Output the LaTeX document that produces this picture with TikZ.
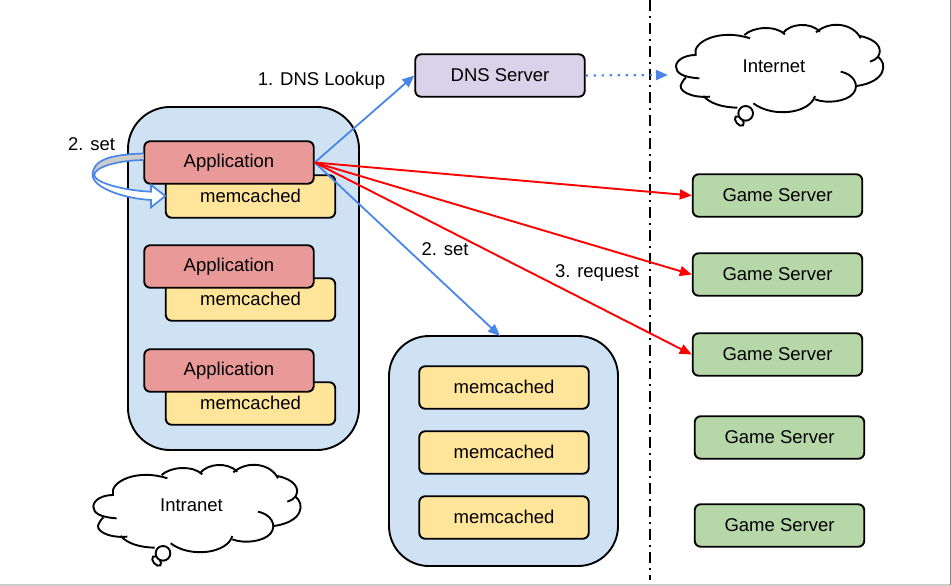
\documentclass[tikz,border=0pt]{standalone}
\usepackage{fontspec}
\setmainfont{Liberation Sans}
\usetikzlibrary{arrows.meta}

\definecolor{panelblue}{HTML}{CFE2F3}
\definecolor{appred}{HTML}{EA9999}
\definecolor{memyellow}{HTML}{FFE599}
\definecolor{dnspurple}{HTML}{D9D2E9}
\definecolor{gamegreen}{HTML}{B6D7A8}
\definecolor{linkblue}{HTML}{4A86E8}

\tikzset{
	box/.style={draw=black, line width=1.9pt, rounded corners=6pt, minimum width=169.5pt, minimum height=42.5pt, inner sep=0pt, font=\fontsize{18.5}{20}\selectfont},
	app/.style={box, fill=appred},
	mem/.style={box, fill=memyellow, text depth=2pt},
	game/.style={box, fill=gamegreen},
	dns/.style={box, fill=dnspurple},
	panel/.style={draw=black, line width=1.9pt, fill=panelblue},
	lbl/.style={inner sep=0pt, font=\fontsize{18.5}{20}\selectfont},
	bluelink/.style={draw=linkblue, line width=1.8pt, -{Triangle[length=12pt, width=10pt]}},
	redlink/.style={draw=red, line width=1.9pt, -{Triangle[length=12pt, width=10pt]}},
	bubble/.pic={
		\begin{scope}[x=1pt/3, y=-1pt/3, line width=1.9pt, draw=black]
			\draw (148,235) .. controls (100,232) and (78,220) .. (78,200) .. controls (78,180) and (105,165) .. (137,165)
				.. controls (125,125) and (210,85) .. (300,115);
			\draw (283,105) .. controls (310,80) and (375,75) .. (405,103);
			\draw (398,100) .. controls (420,70) and (480,65) .. (510,95);
			\draw (498,97) .. controls (540,60) and (610,70) .. (632,115);
			\draw (630,108) .. controls (680,118) and (700,145) .. (684,170) .. controls (678,178) and (670,182) .. (660,185);
			\draw (684,170) .. controls (712,190) and (710,245) .. (620,258);
			\draw (572,215) .. controls (610,222) and (630,255) .. (610,280) .. controls (590,305) and (530,312) .. (495,298);
			\draw (495,288) .. controls (480,340) and (370,355) .. (310,310);
			\draw (262,323) .. controls (215,322) and (180,310) .. (160,288);
			\draw (180,290) .. controls (120,295) and (80,270) .. (95,250) .. controls (98,243) and (102,238) .. (108,232);
			\draw[rotate around={-50:(268,363)}] (268,363) ellipse (17 and 10);
			\fill[white] (287,340) circle (22);
			\draw (287,340) circle (22);
		\end{scope}
	}
}

\begin{document}
\begin{tikzpicture}[x=1pt, y=-1pt]
	\useasboundingbox (0, 0) rectangle (951, 586);
	\draw[gray!40, line width=1.5pt] (0, 585) -- (951, 585);
	\draw[gray, line width=1pt] (950.5, 0) -- (950.5, 585);

	\draw[panel, rounded corners=42pt] (128, 107) rectangle (359, 450);
	\draw[panel, rounded corners=40pt] (389, 336) rectangle (618, 566);

	\node[mem] (mem1) at (250.5, 196.5) {memcached};
	\node[app] (app1) at (229, 162.5) {Application};
	\node[mem] (mem2) at (250.5, 299.5) {memcached};
	\node[app] (app2) at (229, 266.5) {Application};
	\node[mem] (mem3) at (250.5, 403.5) {memcached};
	\node[app] (app3) at (229, 370.5) {Application};

	\node[mem] (cache1) at (504, 387.5) {memcached};
	\node[mem] (cache2) at (504, 452.5) {memcached};
	\node[mem] (cache3) at (504, 517.5) {memcached};

	\node[dns] (dnsserver) at (500, 75.5) {DNS Server};

	\node[game] (game1) at (777.5, 195.5) {Game Server};
	\node[game] (game2) at (777.5, 274.5) {Game Server};
	\node[game] (game3) at (777.5, 354.5) {Game Server};
	\node[game] (game4) at (779.5, 437.5) {Game Server};
	\node[game] (game5) at (779.5, 525.5) {Game Server};

	\draw[black, line width=2pt, dash pattern=on 11pt off 5pt on 2pt off 5pt] (650, 0) -- (650, 580);

	\coordinate (netgate) at (668, 75);
	\draw[bluelink, line width=2.2pt, dash pattern=on 2.2pt off 5.8pt] (dnsserver.east) -- (netgate);
	\draw[bluelink] (app1.east) -- (dnsserver.west);
	\draw[bluelink] (app1.east) -- (500, 336) coordinate (cachetop);
	\foreach \g in {game1, game2, game3}{
		\draw[redlink] (app1.east) -- (\g.west);
	}

	% hollow arrow, app back into its own cache
	\begin{scope}[shift={(app1.west)}]
		\fill[white] (0, -9) .. controls (-32, -8) and (-50.7, -3) .. (-50.7, 12.5) .. controls (-50.7, 25) and (-20, 36) .. (7.7, 37.5) -- (7.7, 44.8) -- (22, 33.5) -- (7.7, 22.5) -- (7.7, 29.2) .. controls (-20, 28) and (-49, 20) .. (-49, 12.5) .. controls (-49, 5) and (-27, -2) .. (0, -2.5) -- cycle;
		\fill[gray!40] (0, -9) .. controls (-32, -8) and (-50.7, -3) .. (-50.7, 12.5) .. controls (-49, 5) and (-27, -2) .. (0, -2.5) -- cycle;
		\draw[linkblue, line width=1.7pt] (0, -9) .. controls (-32, -8) and (-50.7, -3) .. (-50.7, 12.5) .. controls (-50.7, 25) and (-20, 36) .. (7.7, 37.5) -- (7.7, 44.8) -- (22, 33.5) -- (7.7, 22.5) -- (7.7, 29.2) .. controls (-20, 28) and (-49, 20) .. (-49, 12.5) .. controls (-49, 5) and (-27, -2) .. (0, -2.5);
	\end{scope}

	\node[lbl] (lookup) at (321.5, 81) {1. DNS Lookup};
	\node[lbl] (setleft) at (91.5, 144.5) {2. set};
	\node[lbl] (setright) at (445, 249) {2. set};
	\node[lbl] (request) at (597, 273) {3. request};

	\pic at (650, 0) {bubble};
	\pic at (67.33, 440) {bubble};
	\node[lbl] (internet) at (774, 66.5) {Internet};
	\node[lbl] (intranet) at (191.5, 505.5) {Intranet};
\end{tikzpicture}
\end{document}
